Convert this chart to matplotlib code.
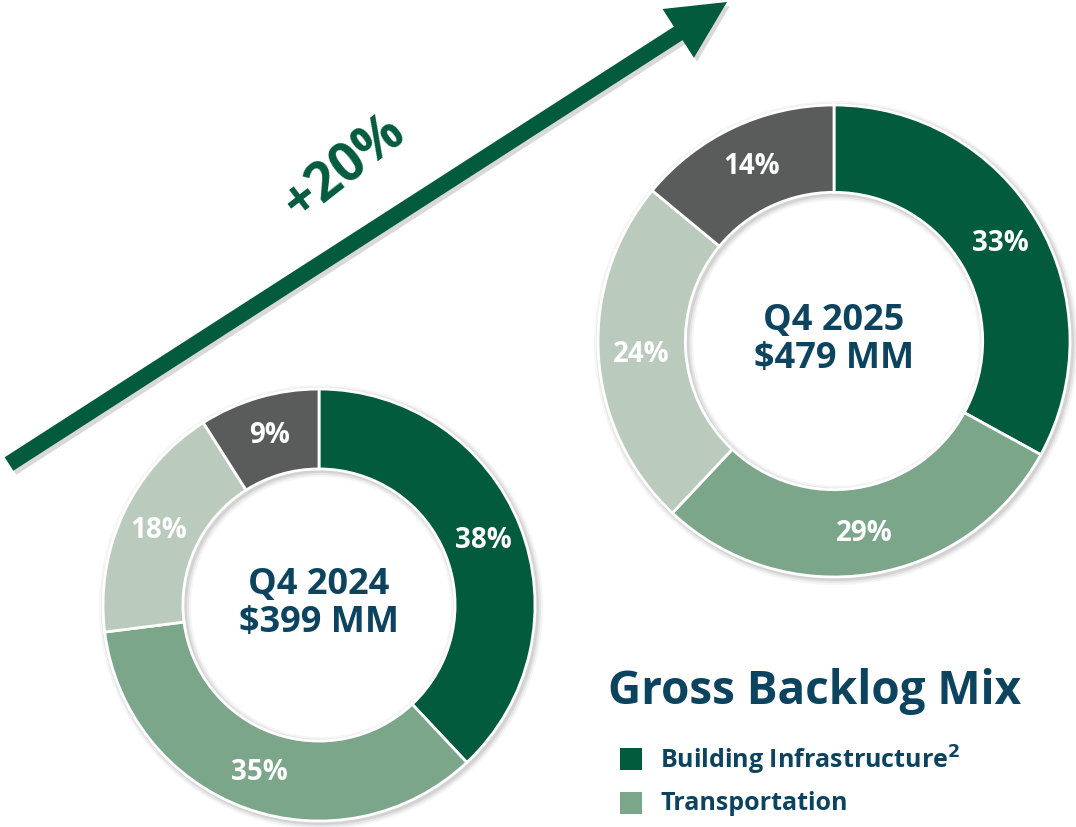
import matplotlib
matplotlib.use('Agg')
import matplotlib.pyplot as plt
from matplotlib.patches import FancyArrow

# data
segments = ['Building Infrastructure$^2$', 'Transportation', 'Segment 3', 'Segment 4']
q4_2024 = [38, 35, 18, 9]
q4_2025 = [33, 29, 24, 14]
titles = ['Q4 2024\n$399 MM', 'Q4 2025\n$479 MM']
growth = '+20%'
colors = ['#035b3e', '#7ba68a', '#bacbbd', '#5a5c5b']
navy = '#0c4460'

plt.rcParams['font.family'] = ['Open Sans', 'DejaVu Sans']
plt.rcParams['font.weight'] = 'bold'

W, H = 1076, 828
fig = plt.figure(figsize=(W / 100, H / 100), dpi=100)
ax = fig.add_axes([0, 0, 1, 1])


def donut(vals, cx, cy, r, label):
    cy = H - cy
    # soft shadow ring
    for k, a in [(6, 0.04), (4, 0.06), (2, 0.08)]:
        ax.pie([1], colors=['#000000'], radius=r + k, center=(cx + 2, cy - 2),
               wedgeprops=dict(width=0.37 * r + 2 * k, alpha=a, linewidth=0))
    wedges, _, pcts = ax.pie(vals, colors=colors, radius=r, center=(cx, cy),
                             startangle=90, counterclock=False,
                             autopct=lambda p: '%.0f%%' % p, pctdistance=0.82,
                             wedgeprops=dict(width=0.37 * r, edgecolor='white', linewidth=2),
                             textprops=dict(color='white', fontsize=20, fontweight='bold'))
    ax.text(cx, cy + 2, label, ha='center', va='center', fontsize=26,
            fontweight='bold', color=navy, linespacing=1.1)


donut(q4_2024, 319, 606, 216, titles[0])
donut(q4_2025, 834, 342, 236, titles[1])

# growth arrow
x0, y0, x1, y1 = 9, H - 465, 727, H - 3
arr = FancyArrow(x0, y0, x1 - x0, y1 - y0, width=16, head_width=58, head_length=58,
                 length_includes_head=True, color='#035b3e', linewidth=0, zorder=5)
ax.add_patch(FancyArrow(x0 + 3, y0 - 4, x1 - x0, y1 - y0, width=16, head_width=58,
                        head_length=58, length_includes_head=True, color='#000000',
                        alpha=0.15, linewidth=0, zorder=4))
ax.add_patch(arr)
ax.text(345, H - 168, growth, rotation=38, ha='center', va='center', fontsize=38,
        fontweight='bold', color='#035b3e', rotation_mode='anchor')

# title and legend
ax.text(608, H - 692, 'Gross Backlog Mix', ha='left', va='center', fontsize=33,
        fontweight='bold', color=navy)
for i, ly in enumerate([760, 804]):
    ax.add_patch(plt.Rectangle((620, H - ly - 11), 22, 22, color=colors[i], linewidth=0))
    ax.text(660, H - ly, segments[i], ha='left', va='center', fontsize=18,
            fontweight='bold', color=navy)

ax.set_xlim(0, W)
ax.set_ylim(0, H)
ax.set_aspect('equal')
ax.axis('off')

plt.savefig('out.png', dpi=100)
